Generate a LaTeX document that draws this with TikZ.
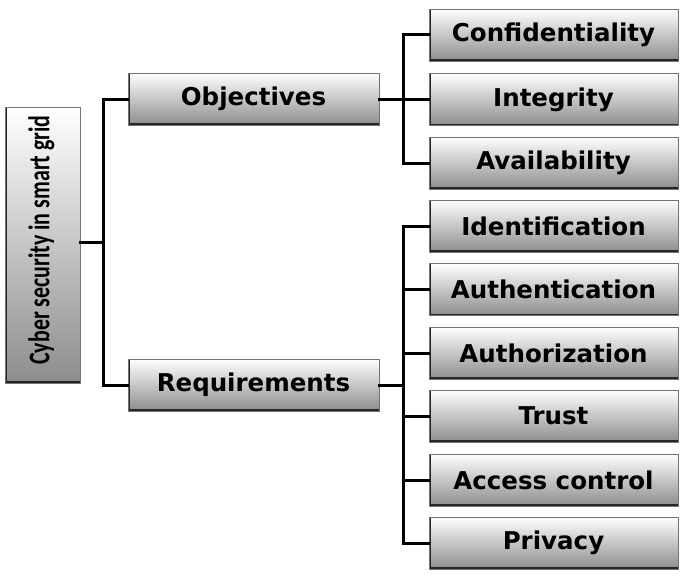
\documentclass[tikz,border=0pt]{standalone}
\usepackage{fontspec}
\setmainfont{DejaVu Sans}
\newfontfamily\rootfont{Carlito}
\begin{document}
\begin{tikzpicture}[x=1pt,y=-1pt,
  box/.style={draw=black!55, line width=0.8pt, top color=white, middle color=white, bottom color=black!45,
    inner sep=0pt, minimum height=52pt, font=\fontsize{24.5}{27}\selectfont\bfseries,
    path picture={\draw[line width=4pt, black!85] (path picture bounding box.north west) -- (path picture bounding box.south west) -- (path picture bounding box.south east);}},
  lbox/.style={box, minimum width=251pt},
  rbox/.style={box, minimum width=249pt},
  link/.style={line width=3pt, black, line cap=rect}]
\useasboundingbox (0,0) rectangle (685,578);
\node[box, minimum width=75pt, minimum height=276pt] (root) at (42.5,245) {};
\node[rotate=90, inner sep=0pt, font=\rootfont\fontsize{30}{32}\selectfont\bfseries] (roottext) at (41.5,240) {\scalebox{0.73}[1]{Cyber security in smart grid}};
\node[lbox] (obj) at (253.5,99) {Objectives};
\node[lbox] (req) at (253.5,385) {Requirements};
\node[rbox] (conf) at (553.5,35) {Confidentiality};
\node[rbox] (integ) at (553.5,99.5) {Integrity};
\node[rbox] (avail) at (553.5,163) {Availability};
\node[rbox] (ident) at (553.5,226) {Identification};
\node[rbox] (authe) at (553.5,289.5) {Authentication};
\node[rbox] (autho) at (553.5,353) {Authorization};
\node[rbox] (trust) at (553.5,416) {Trust};
\node[rbox] (acc) at (553.5,480) {Access control};
\node[rbox] (priv) at (553.5,543) {Privacy};
\coordinate (rj) at (103,242);
\coordinate (oj) at (403,99);
\coordinate (qj) at (403,385);
\draw[link] (root.east |- rj) -- (rj);
\draw[link] (obj.west) -| (rj) |- (req.west);
\draw[link] (obj.east) -- (oj);
\draw[link] (req.east) -- (qj);
\foreach \n in {conf,integ,avail} \draw[link] (oj) |- (\n.west);
\foreach \n in {ident,authe,autho,trust,acc,priv} \draw[link] (qj) |- (\n.west);
\end{tikzpicture}
\end{document}
